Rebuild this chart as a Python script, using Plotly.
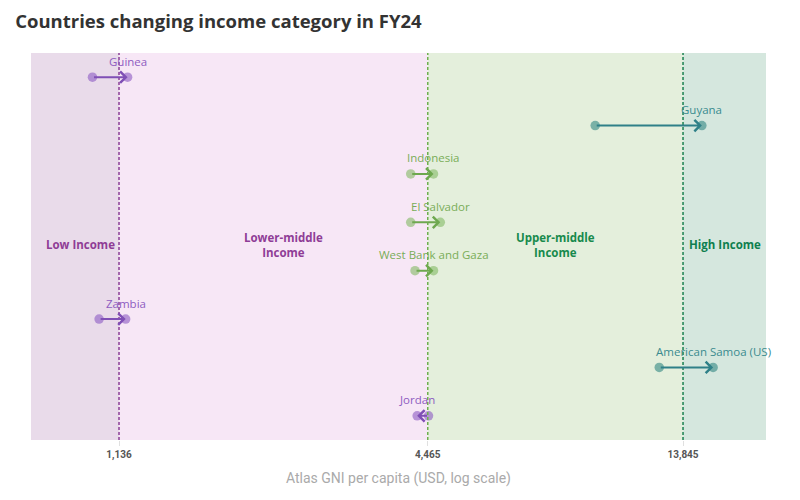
import math
import plotly.graph_objects as go

countries = ["Guinea", "Guyana", "Indonesia", "El Salvador", "West Bank and Gaza",
             "Zambia", "American Samoa (US)", "Jordan"]
gni_before = [1010, 9380, 4140, 4140, 4220, 1040, 12460, 4480]
gni_after = [1180, 15050, 4580, 4720, 4580, 1170, 15820, 4260]
group = ["lm", "h", "um", "um", "um", "lm", "h", "lm"]

thresholds = [1136, 4465, 13845]
threshold_labels = ["1,136", "4,465", "13,845"]
x_min, x_max = 769, 20000

band_names = ["Low Income", "Lower-middle<br>Income", "Upper-middle<br>Income", "High Income"]
band_fill = ["#e9dbea", "#f7e7f6", "#e4efdc", "#d5e7de"]
band_text = ["#8f3d96", "#8f3d96", "#178a4c", "#0f7f4f"]
band_xshift = [5, 10, 0, 0]
thr_color = ["#8a3f96", "#6fb04f", "#1a8050"]

marker_col = {"lm": "rgba(140,90,195,0.6)", "um": "rgba(130,185,100,0.6)", "h": "rgba(50,135,130,0.6)"}
line_col = {"lm": "#7f4fb5", "um": "#6ea84f", "h": "#2f8088"}
label_col = {"lm": "#8e5cc1", "um": "#79ad58", "h": "#3a8b8f"}

fig = go.Figure()

edges = [x_min] + thresholds + [x_max]
for i in range(4):
    fig.add_shape(type="rect", xref="x", yref="paper", x0=edges[i], x1=edges[i + 1],
                  y0=0, y1=1, fillcolor=band_fill[i], line_width=0, layer="below")
    mid = (math.log10(edges[i]) + math.log10(edges[i + 1])) / 2
    fig.add_annotation(x=mid, y=3.5, xref="x", yref="y", text="<b>" + band_names[i] + "</b>",
                       showarrow=False, xshift=band_xshift[i], yshift=2,
                       font=dict(family="Open Sans", size=11.5, color=band_text[i]))

for t, c in zip(thresholds, thr_color):
    fig.add_shape(type="line", xref="x", yref="paper", x0=t, x1=t, y0=0, y1=1,
                  line=dict(color=c, width=1.5, dash="3px,2px"))

for i, name in enumerate(countries):
    g = group[i]
    fig.add_trace(go.Scatter(x=[gni_before[i], gni_after[i]], y=[i, i], mode="markers",
                             marker=dict(size=9.5, color=marker_col[g]), showlegend=False,
                             hoverinfo="skip"))
    fig.add_annotation(x=math.log10(gni_after[i]), y=i, ax=math.log10(gni_before[i]), ay=i,
                       xref="x", yref="y", axref="x", ayref="y", text="", showarrow=True,
                       arrowhead=4, arrowsize=1.1, arrowwidth=2, arrowcolor=line_col[g])
    fig.add_annotation(x=math.log10(gni_after[i]), y=i, xref="x", yref="y", text=name,
                       showarrow=False, yshift=16,
                       font=dict(family="Open Sans", size=11.5, color=label_col[g]))

fig.update_layout(
    width=800, height=500,
    margin=dict(l=23, r=42, t=45, b=68),
    paper_bgcolor="white", plot_bgcolor="white",
    title=dict(text="<b>Countries changing income category in FY24</b>", x=0.009, xanchor="left",
               y=0.972, yanchor="middle",
               font=dict(family="Open Sans", size=18.5, color="#333333")),
    xaxis=dict(type="log", range=[math.log10(x_min), math.log10(x_max)],
               tickvals=thresholds, ticktext=["<b>" + s + "</b>" for s in threshold_labels],
               tickfont=dict(family="Roboto", size=10, color="#555555"),
               ticks="outside", ticklen=5, tickcolor="#e0e0e0", showgrid=False, zeroline=False,
               showline=False,
               title=dict(text="Atlas GNI per capita (USD, log scale)",
                          font=dict(family="Roboto", size=14, color="#aaaaaa"), standoff=13)),
    yaxis=dict(range=[7.5, -0.5], visible=False, showgrid=False, zeroline=False),
)

fig.write_html("out.html")
